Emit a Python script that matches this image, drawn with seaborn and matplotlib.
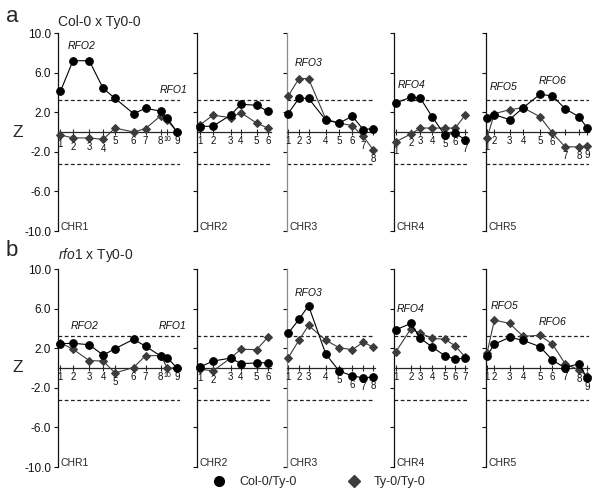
import matplotlib
matplotlib.use("Agg")
import numpy as np
import pandas as pd
import matplotlib.pyplot as plt
import matplotlib.transforms as mtrans
from matplotlib.lines import Line2D
import seaborn as sns

sns.set_style("ticks")
plt.rcParams['font.family'] = ['Liberation Sans', 'DejaVu Sans']
plt.rcParams['mathtext.fontset'] = 'custom'
plt.rcParams['mathtext.it'] = 'Liberation Sans:italic'
plt.rcParams['mathtext.rm'] = 'Liberation Sans'

# chromosomes, their extent (Mb) and marker positions / names
chroms = ['CHR1', 'CHR2', 'CHR3', 'CHR4', 'CHR5']
chr_len = [30.5, 18.5, 22.1, 18.25, 25.8]

pos = {
    'CHR1': [0.6, 3.75, 7.8, 11.3, 14.25, 18.9, 21.9, 25.7, 27.3, 29.75],
    'CHR2': [0.7, 4.0, 8.4, 11.0, 14.9, 17.7],
    'CHR3': [0.25, 3.0, 5.4, 9.75, 13.1, 16.4, 19.15, 21.65],
    'CHR4': [0.4, 4.2, 6.6, 9.6, 12.7, 15.3, 17.8],
    'CHR5': [0.25, 2.1, 5.9, 9.3, 13.5, 16.65, 19.8, 23.25, 25.3],
}
names = {
    'CHR1': ['1', '2', '3', '4', '5', '6', '7', '8', '10', '9'],
    'CHR2': ['1', '2', '3', '4', '5', '6'],
    'CHR3': ['1', '2', '3', '4', '5', '6', '7', '8'],
    'CHR4': ['1', '2', '3', '4', '5', '6', '7'],
    'CHR5': ['1', '2', '3', '4', '5', '6', '7', '8', '9'],
}

# Z scores, panel a (Col-0 x Ty0-0)
col_a = {
    'CHR1': [4.1, 7.2, 7.2, 4.4, 3.4, 1.85, 2.4, 2.1, 1.4, 0.0],
    'CHR2': [0.55, 0.6, 1.7, 2.8, 2.7, 2.1],
    'CHR3': [1.85, 3.4, 3.4, 1.2, 0.9, 1.6, 0.25, 0.35],
    'CHR4': [2.95, 3.5, 3.4, 1.5, -0.3, -0.1, -0.8],
    'CHR5': [1.45, 1.75, 1.25, 2.45, 3.8, 3.65, 2.35, 1.55, 0.45],
}
ty_a = {
    'CHR1': [-0.3, -0.6, -0.6, -0.75, 0.4, 0.0, 0.35, 1.65, 1.2, 0.0],
    'CHR2': [0.7, 1.7, 1.45, 1.95, 0.9, 0.4],
    'CHR3': [3.6, 5.4, 5.4, 1.3, 0.9, 0.65, -0.45, -1.8],
    'CHR4': [-1.0, -0.2, 0.4, 0.4, 0.4, 0.4, 1.7],
    'CHR5': [-0.6, 1.85, 2.25, 2.45, 1.55, -0.1, -1.5, -1.5, -1.4],
}
# Z scores, panel b (rfo1 x Ty0-0)
col_b = {
    'CHR1': [2.45, 2.5, 2.35, 1.3, 1.95, 2.9, 2.2, 1.2, 1.05, 0.0],
    'CHR2': [0.1, 0.7, 1.0, 0.45, 0.5, 0.55],
    'CHR3': [3.5, 4.9, 6.3, 1.4, -0.3, -0.8, -1.0, -0.9],
    'CHR4': [3.85, 4.5, 3.0, 2.1, 1.25, 0.9, 1.0],
    'CHR5': [1.25, 2.4, 3.1, 2.8, 2.15, 0.8, 0.0, 0.45, -1.0],
}
ty_b = {
    'CHR1': [2.55, 1.9, 0.75, 0.7, -0.5, 0.05, 1.25, 1.25, 0.0, 0.0],
    'CHR2': [-0.1, -0.3, 1.0, 1.9, 1.85, 3.1],
    'CHR3': [1.0, 2.8, 4.3, 2.8, 2.05, 1.85, 2.6, 2.1],
    'CHR4': [1.6, 3.95, 3.5, 3.0, 2.9, 2.25, 1.1],
    'CHR5': [1.5, 4.85, 4.5, 3.2, 3.3, 2.4, 0.45, -0.2, -0.8],
}

threshold = 3.2

# RFO labels (chromosome, x, y)
rfo_a = [('CHR1', 6.0, 8.7, 'RFO2'), ('CHR1', 29.0, 4.25, 'RFO1'),
         ('CHR3', 5.45, 7.0, 'RFO3'), ('CHR4', 4.4, 4.7, 'RFO4'),
         ('CHR5', 4.45, 4.5, 'RFO5'), ('CHR5', 16.7, 5.2, 'RFO6')]
rfo_b = [('CHR1', 6.6, 4.25, 'RFO2'), ('CHR1', 28.75, 4.25, 'RFO1'),
         ('CHR3', 5.5, 7.6, 'RFO3'), ('CHR4', 4.25, 6.0, 'RFO4'),
         ('CHR5', 4.75, 6.25, 'RFO5'), ('CHR5', 16.75, 4.6, 'RFO6')]

# layout in pixels
W, H = 600, 494
chr_px = [(58, 180), (197, 271), (287, 375), (394, 467), (486, 589)]
panel_px = [(33, 231), (269, 467)]

fig = plt.figure(figsize=(W / 100, H / 100), dpi=100)

col_c = 'black'
ty_c = '#3c3c3c'


def draw_panel(row, col_d, ty_d, rfo):
    top, bot = panel_px[row]
    axes = {}
    for i, ch in enumerate(chroms):
        l, r = chr_px[i]
        ax = fig.add_axes([l / W, 1 - bot / H, (r - l) / W, (bot - top) / H])
        axes[ch] = ax
        df = pd.DataFrame({'pos': pos[ch], 'col': col_d[ch], 'ty': ty_d[ch]})
        ax.axhline(threshold, ls=(0, (3, 2)), color='#222222', lw=0.9)
        ax.axhline(-threshold, ls=(0, (3, 2)), color='#222222', lw=0.9)
        sns.lineplot(data=df, x='pos', y='ty', ax=ax, color=ty_c, marker='D',
                     markersize=4.5, mec=ty_c, lw=0.8, clip_on=False,
                     sort=False, legend=False, zorder=3)
        sns.lineplot(data=df, x='pos', y='col', ax=ax, color=col_c, marker='o',
                     markersize=5.5, mec=col_c, lw=0.8, clip_on=False,
                     sort=False, legend=False, zorder=4)
        ax.set_xlim(0, chr_len[i])
        ax.set_ylim(-10, 10)
        ax.set_xlabel('')
        ax.set_ylabel('')
        for s in ['top', 'right']:
            ax.spines[s].set_visible(False)
        ax.spines['bottom'].set_position(('data', 0))
        ax.spines['bottom'].set_linewidth(0.9)
        ax.spines['left'].set_linewidth(0.9)
        ax.spines['left'].set_color('#8a8a8a' if ch == 'CHR3' else '#111111')
        ax.set_xticks(pos[ch])
        ax.tick_params(axis='x', direction='inout', length=5, width=0.8,
                       labelbottom=False)
        ax.set_yticks([-10, -6, -2, 2, 6, 10])
        ax.tick_params(axis='y', direction='out', length=3, width=0.8,
                       labelsize=8.5, pad=2, colors='#111111')
        if i == 0:
            ax.set_yticklabels(['%.1f' % v for v in [-10, -6, -2, 2, 6, 10]])
        else:
            ax.tick_params(axis='y', labelleft=False)
        # marker numbers under the zero line
        for x, n, c, d in zip(pos[ch], names[ch], col_d[ch], ty_d[ch]):
            y = min(0, c, d) - 0.45
            ax.text(x, y, n, ha='center', va='top',
                    fontsize=5 if n == '10' else 7, color='#111111')
        ax.text(0.7, -9.9, ch, ha='left', va='baseline', fontsize=7.5)
        ax.set_facecolor('none')
    for ch, x, y, t in rfo:
        axes[ch].text(x, y, t, ha='center', va='center', fontsize=7.5,
                      style='italic', color='#111111')
    ax1 = axes['CHR1']
    tr = mtrans.blended_transform_factory(ax1.transAxes, ax1.transData)
    ax1.text(-0.33, 0, 'Z', transform=tr, ha='center', va='center',
             fontsize=12.5)


draw_panel(0, col_a, ty_a, rfo_a)
draw_panel(1, col_b, ty_b, rfo_b)

fig.text(12 / W, 1 - 17 / H, 'a', fontsize=16, ha='center', va='center')
fig.text(12 / W, 1 - 250 / H, 'b', fontsize=16, ha='center', va='center')
fig.text(58 / W, 1 - 22 / H, 'Col-0 x Ty0-0', fontsize=10, ha='left',
         va='center')
fig.text(58 / W, 1 - 255 / H, r'$\mathit{rfo1}$ x Ty0-0', fontsize=10,
         ha='left', va='center')

handles = [Line2D([], [], marker='o', color=col_c, ls='none', markersize=7),
           Line2D([], [], marker='D', color=ty_c, ls='none', markersize=6)]
fig.legend(handles, ['Col-0/Ty-0', 'Ty-0/Ty-0'], loc='center',
           bbox_to_anchor=(0.527, 1 - 482 / H), ncol=2, frameon=False,
           fontsize=9, columnspacing=3.6, handletextpad=0.6)

fig.savefig('out.png', dpi=100)
